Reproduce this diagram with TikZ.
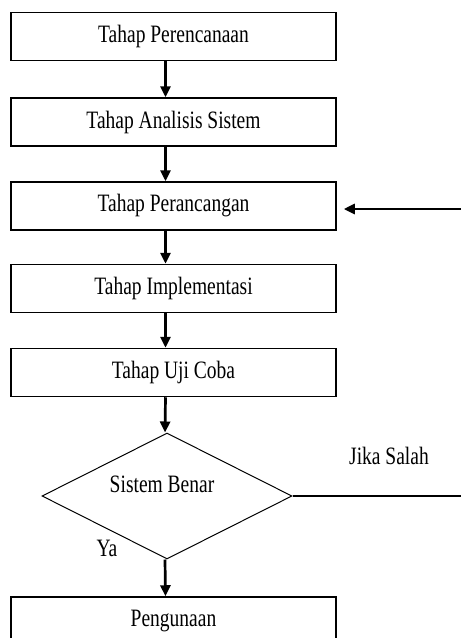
\documentclass[tikz,border=0pt]{standalone}
\usepackage{fontspec}
\setmainfont{Liberation Serif}[FakeStretch=0.78]
\usetikzlibrary{shapes.geometric,arrows.meta}
\begin{document}
\begin{tikzpicture}[x=1pt,y=1pt,
  stepbox/.style={draw,line width=1.5pt,minimum width=325pt,minimum height=48pt,inner sep=0pt,font=\fontsize{25}{25}\selectfont},
  lbl/.style={font=\fontsize{25}{25}\selectfont,inner sep=0pt},
  arr/.style={line width=2.7pt,-{Triangle[length=11pt,width=10pt]}},
  thin/.style={line width=1.3pt}]
\useasboundingbox (0,0) rectangle (461,-638);
\node[stepbox] (b1) at (173.5,-36.5) {Tahap Perencanaan};
\node[stepbox] (b2) at (173.5,-122) {Tahap Analisis Sistem};
\node[stepbox] (b3) at (173.5,-206) {Tahap Perancangan};
\node[stepbox] (b4) at (173.5,-288.5) {Tahap Implementasi};
\node[stepbox] (b5) at (173.5,-372.5) {Tahap Uji Coba};
\node[draw,diamond,line width=1pt,minimum width=250pt,minimum height=126pt,inner sep=0pt] (d) at (167,-496) {};
\node[lbl] (dt) at (162,-484) {Sistem Benar};
\node[stepbox] (b6) at (173.5,-621) {Pengunaan};
\node[lbl] (js) at (389,-456) {Jika Salah};
\node[lbl] (ya) at (107,-548) {Ya};
\coordinate (r1) at (465,-209);
\coordinate (r2) at (465,-496);
\draw[arr] ([xshift=-8pt]b1.south) -- ([xshift=-8pt]b2.north);
\draw[arr] ([xshift=-8pt]b2.south) -- ([xshift=-8pt]b3.north);
\draw[arr] ([xshift=-8pt]b3.south) -- ([xshift=-8pt]b4.north);
\draw[arr] ([xshift=-8pt]b4.south) -- ([xshift=-8pt]b5.north);
\draw[arr] ([xshift=-8pt]b5.south) -- ([xshift=-2pt]d.north);
\draw[arr] ([xshift=-2pt]d.south) -- ([xshift=-8pt]b6.north);
\draw[thin] (d.east) -- (r2);
\draw[arr] (r1) -- ([xshift=7pt,yshift=-3pt]b3.east);
\end{tikzpicture}
\end{document}
